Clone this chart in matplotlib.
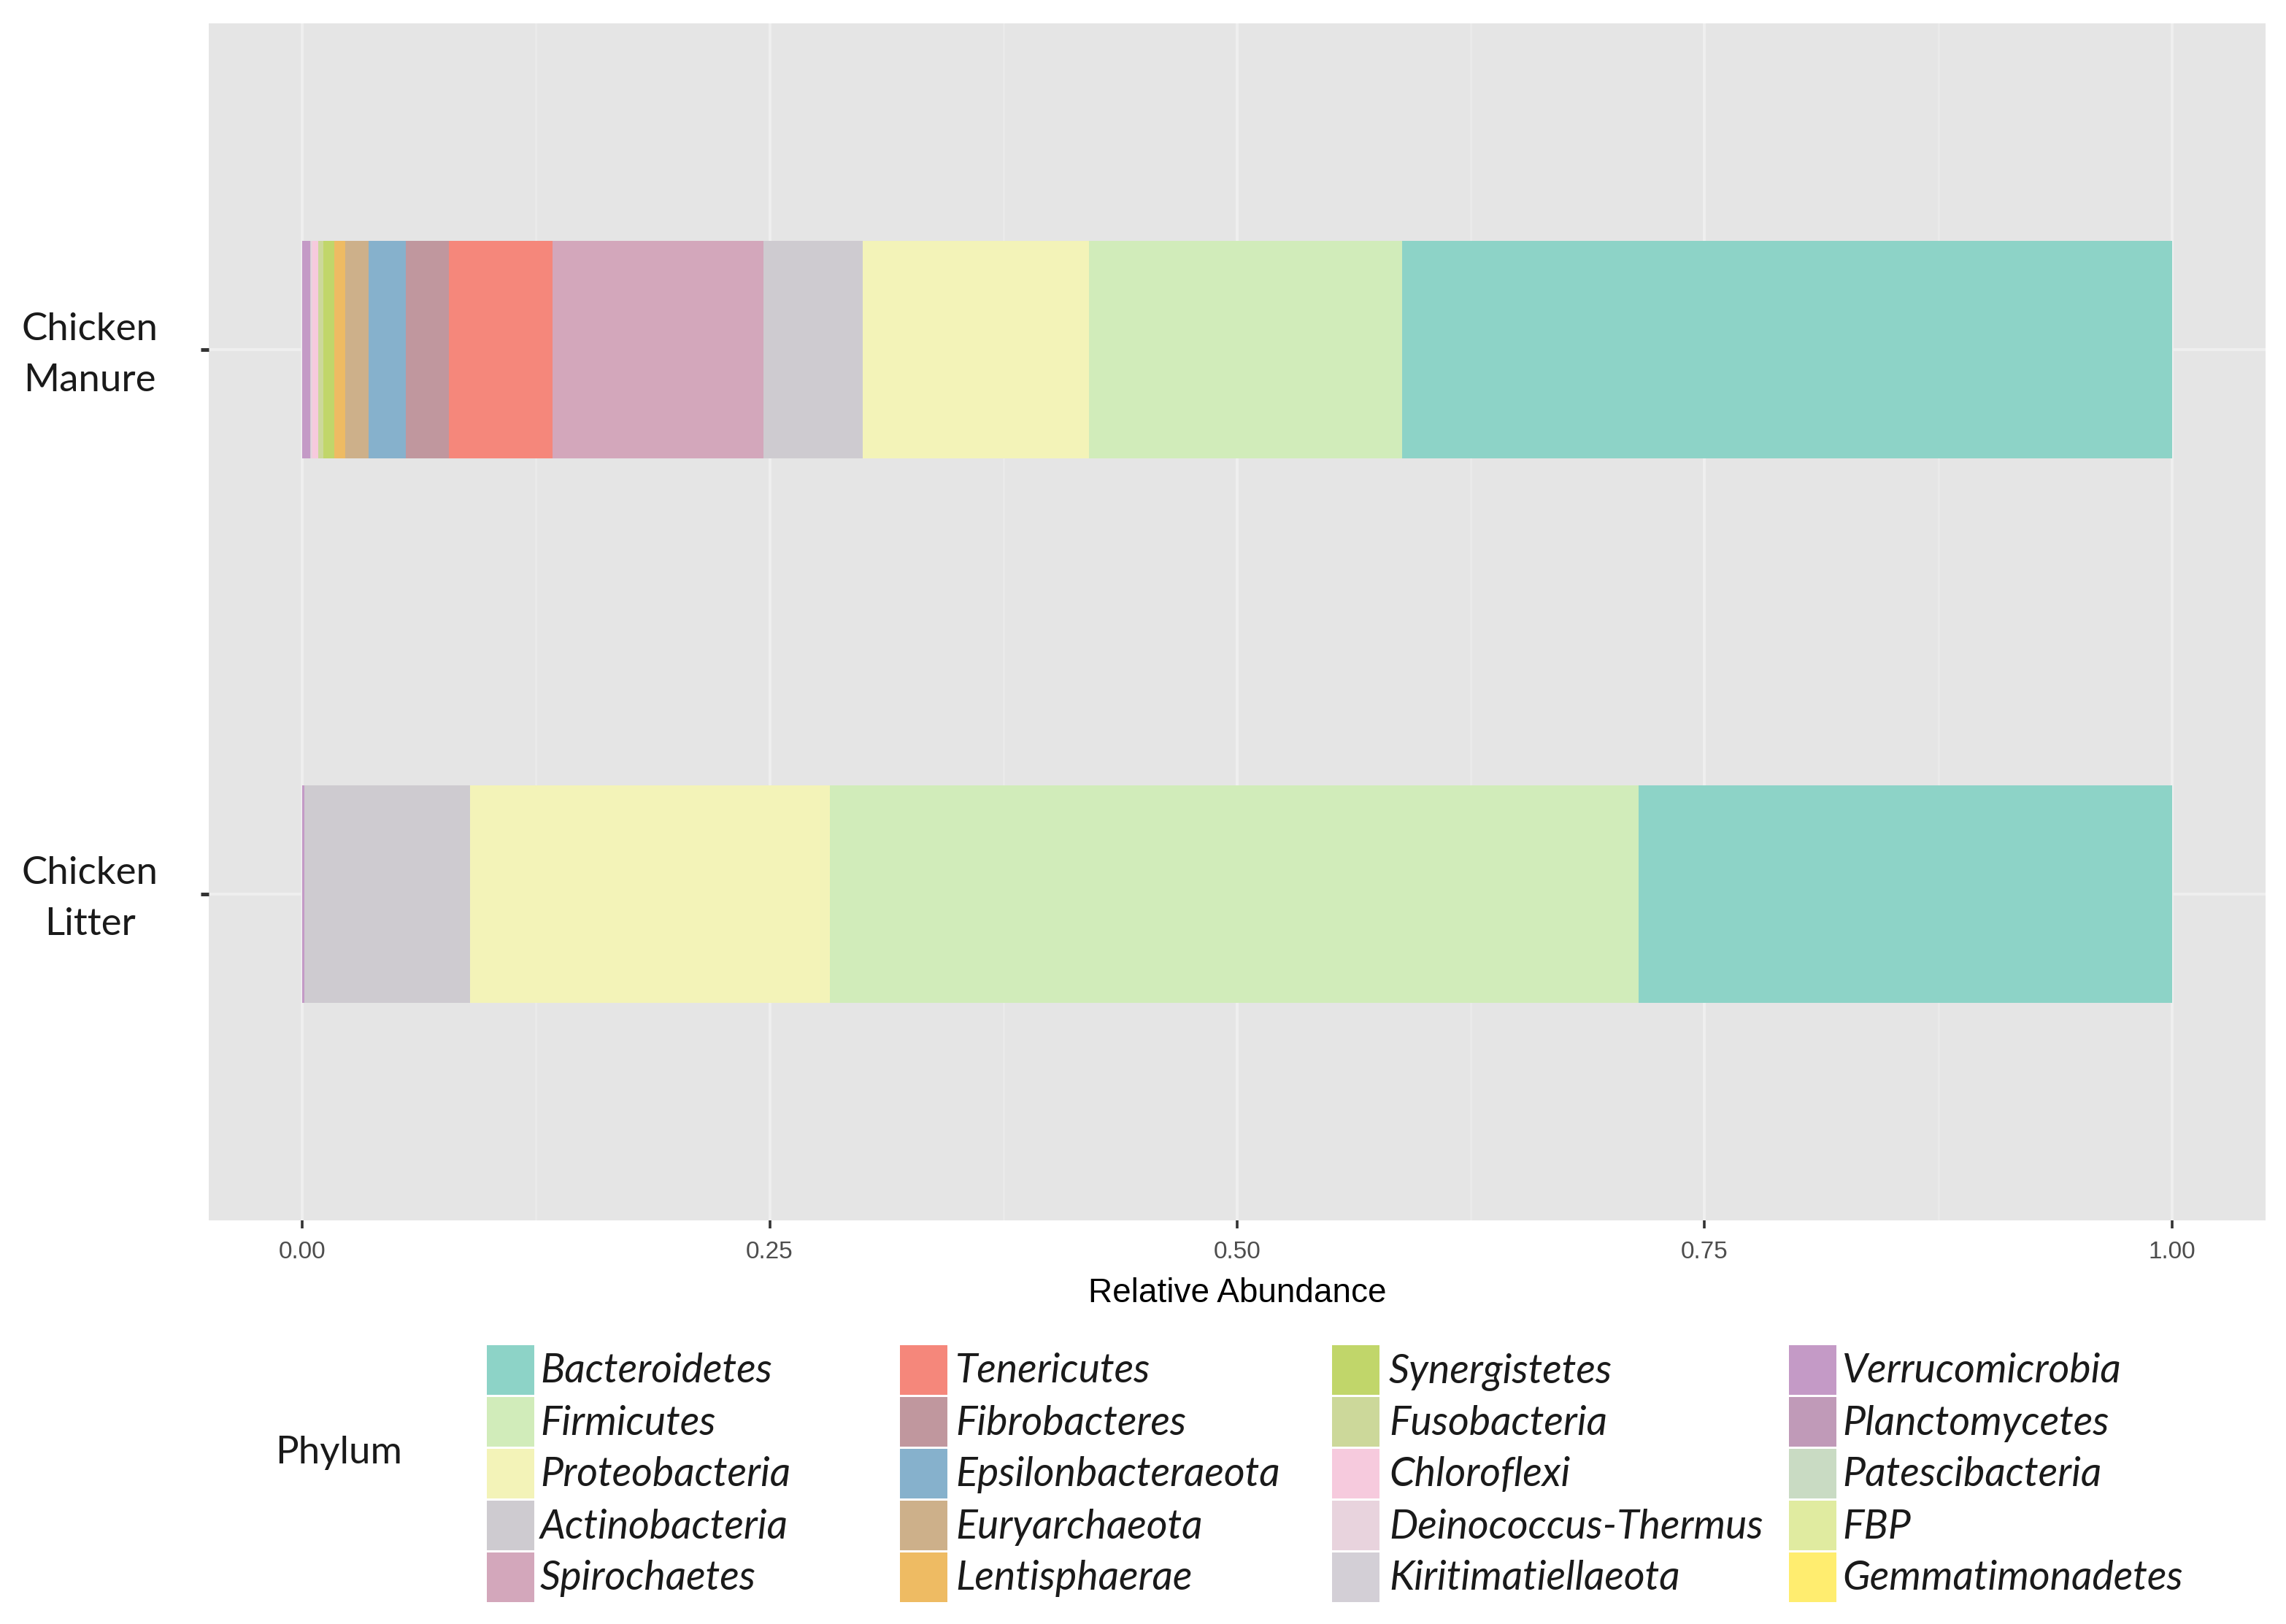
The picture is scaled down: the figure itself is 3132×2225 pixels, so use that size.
import matplotlib
matplotlib.use("Agg")
import matplotlib.pyplot as plt
from matplotlib.patches import Rectangle
from matplotlib.transforms import ScaledTranslation
import numpy as np

# ---------------- data ----------------
samples = ["Chicken\nLitter", "Chicken\nManure"]
phyla = ["Bacteroidetes", "Firmicutes", "Proteobacteria", "Actinobacteria", "Spirochaetes",
         "Tenericutes", "Fibrobacteres", "Epsilonbacteraeota", "Euryarchaeota", "Lentisphaerae",
         "Synergistetes", "Fusobacteria", "Chloroflexi", "Deinococcus-Thermus", "Kiritimatiellaeota",
         "Verrucomicrobia", "Planctomycetes", "Patescibacteria", "FBP", "Gemmatimonadetes"]
colors = ["#8dd3c7", "#d1ecba", "#f3f3b8", "#cecbd0", "#d3a7bb",
          "#f5877b", "#c0979e", "#86b1cc", "#cdb08a", "#eebb63",
          "#c1d66a", "#ccd89a", "#f6cadd", "#e8d3dd", "#d3cfd6",
          "#c49ac6", "#c09ab8", "#c9dbc3", "#e0eba0", "#ffed6f"]
# relative abundance per phylum: [Chicken Litter, Chicken Manure]
abund_litter = [0.2854, 0.4325, 0.1923, 0.0885, 0.0, 0.0, 0.0, 0.0, 0.0, 0.0,
                0.0, 0.0, 0.0, 0.0, 0.0, 0.0013, 0.0, 0.0, 0.0, 0.0]
abund_manure = [0.4119, 0.1672, 0.1213, 0.0529, 0.1127, 0.0555, 0.0230, 0.0199, 0.0128, 0.0057,
                0.0058, 0.0028, 0.0029, 0.0008, 0.0005, 0.0043, 0.0, 0.0, 0.0, 0.0]
xticks = [0.00, 0.25, 0.50, 0.75, 1.00]
xtick_labels = ["0.00", "0.25", "0.50", "0.75", "1.00"]

# ---------------- figure ----------------
W, H = 3132, 2225
DPI = 200
fig = plt.figure(figsize=(W / DPI, H / DPI), dpi=DPI)
fig.patch.set_facecolor("white")

def fx(x):
    return x / W

def fy(y):
    return 1 - y / H

ax = fig.add_axes([fx(286), fy(1672), fx(3104) - fx(286), fy(32) - fy(1672)])
ax.set_facecolor("#e5e5e5")

ypos = np.array([1, 2])
vals = np.array([abund_litter, abund_manure])  # shape (2, n_phyla)
left = np.zeros(2)
# stack from the last legend level (leftmost) to the first (rightmost)
for i in reversed(range(len(phyla))):
    w = vals[:, i]
    ax.barh(ypos, w, left=left, height=0.4, color=colors[i], edgecolor="none", zorder=3)
    left = left + w

ax.set_xlim(-0.05, 1.05)
ax.set_ylim(0.4, 2.6)

ax.tick_params(axis="x", which="major", length=4, width=1.3, color="#333333", pad=6)
ax.tick_params(axis="x", which="minor", length=0)
ax.tick_params(axis="y", which="major", length=4, width=1.8, color="#333333", pad=21)

ax.set_xticks(xticks)
ax.set_xticklabels(xtick_labels, fontsize=12, color="#4d4d4d", family=["Liberation Sans", "DejaVu Sans"])
ax.set_xticks([0.125, 0.375, 0.625, 0.875], minor=True)
ax.set_yticks(ypos)
ax.set_yticklabels(samples, fontsize=19, color="#1a1a1a", family=["Lato", "DejaVu Sans"],
                   linespacing=1.6, multialignment="center")
shift = ScaledTranslation(0, 9 / DPI, fig.dpi_scale_trans)
for lbl in ax.get_yticklabels():
    lbl.set_transform(lbl.get_transform() + shift)

ax.grid(True, which="major", color="#efefef", linewidth=1.4, zorder=0)
ax.grid(True, which="minor", axis="x", color="#eaeaea", linewidth=1.0, zorder=0)
ax.set_axisbelow(True)
for s in ax.spines.values():
    s.set_visible(False)

ax.set_xlabel("Relative Abundance", fontsize=16.5, family=["Liberation Sans", "DejaVu Sans"],
              color="black", labelpad=7)

# ---------------- legend ----------------
fig.text(fx(377), fy(1990), "Phylum", fontsize=19, family=["Lato", "DejaVu Sans"],
         ha="left", va="center", color="#1a1a1a")

key_x = [667, 1233, 1825, 2451]
text_x = [740, 1309, 1903, 2524]
row_top = [1843, 1914, 1985, 2056, 2127]
key_w, key_h = 65, 68
for i, (name, col) in enumerate(zip(phyla, colors)):
    c, r = divmod(i, 5)
    x0 = key_x[c]
    y0 = row_top[r]
    fig.add_artist(Rectangle((fx(x0), fy(y0 + key_h)), fx(key_w), key_h / H,
                             transform=fig.transFigure, facecolor=col, edgecolor="none"))
    fig.text(fx(text_x[c]), fy(y0 + key_h / 2 + 2), name, fontsize=20, style="italic",
             family=["Lato", "DejaVu Sans"], ha="left", va="center", color="#1a1a1a")

fig.savefig("out.png", dpi=DPI, facecolor="white")
